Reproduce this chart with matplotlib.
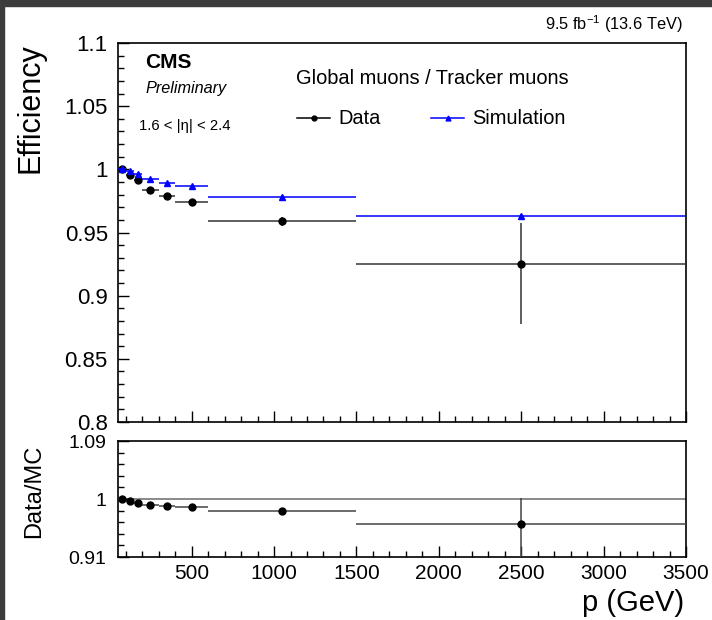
import numpy as np
import matplotlib
matplotlib.use('Agg')
from matplotlib import pyplot as plt
from matplotlib.lines import Line2D
from matplotlib.patches import Rectangle
from matplotlib.ticker import MultipleLocator, FixedLocator, FuncFormatter

plt.rcParams['font.family'] = ['Liberation Sans', 'DejaVu Sans']
plt.rcParams['mathtext.fontset'] = 'custom'
plt.rcParams['mathtext.rm'] = 'Liberation Sans'
plt.rcParams['mathtext.it'] = 'Liberation Sans:italic'

# momentum bins in GeV
bin_edges = [50, 100, 150, 200, 300, 400, 600, 1500, 3500]

# global / tracker muon efficiency, 1.6 < |eta| < 2.4
eff_data = [1.000, 0.9953, 0.9913, 0.9834, 0.9792, 0.9744, 0.9588, 0.9253]
eff_data_err_lo = [0.0008, 0.0010, 0.0010, 0.0012, 0.0015, 0.0020, 0.0037, 0.0480]
eff_data_err_hi = [0.0005, 0.0010, 0.0010, 0.0012, 0.0015, 0.0020, 0.0037, 0.0319]
eff_sim = [1.000, 0.9984, 0.9966, 0.9926, 0.9889, 0.9865, 0.9783, 0.9630]
eff_sim_err = [0.0003, 0.0004, 0.0005, 0.0006, 0.0008, 0.0010, 0.0012, 0.0020]

ratio = [0.9993, 0.9965, 0.9935, 0.9900, 0.9888, 0.9870, 0.9810, 0.9610]
ratio_err_lo = [0.0008, 0.0010, 0.0010, 0.0013, 0.0016, 0.0021, 0.0040, 0.0600]
ratio_err_hi = [0.0005, 0.0010, 0.0010, 0.0013, 0.0016, 0.0021, 0.0040, 0.0410]

edges = np.array(bin_edges, dtype=float)
centers = (edges[:-1] + edges[1:]) / 2
half = (edges[1:] - edges[:-1]) / 2


def fmt(v, pos):
    return f'{round(v, 3):g}'


def style_axis(ax, label_size, ypad):
    for sp in ax.spines.values():
        sp.set_linewidth(1.2)
    ax.tick_params(which='both', direction='in', top=False, right=False)
    ax.tick_params(which='major', length=8, width=1)
    ax.tick_params(which='minor', length=4.5, width=1)
    ax.tick_params(axis='y', labelsize=label_size, pad=ypad)
    ax.tick_params(axis='x', labelsize=15, pad=5)
    ax.xaxis.set_major_locator(MultipleLocator(500))
    ax.xaxis.set_minor_locator(MultipleLocator(100))
    ax.yaxis.set_major_formatter(FuncFormatter(fmt))
    ax.set_xlim(edges[0], edges[-1])


fig = plt.figure(figsize=(7.12, 6.2), dpi=100)
ax = fig.add_axes([117.5 / 712, 1 - 422 / 620, 568.5 / 712, 379 / 620])
rax = fig.add_axes([117.5 / 712, 1 - 557 / 620, 568.5 / 712, 116 / 620])

# efficiency panel
ax.errorbar(centers, eff_data, xerr=half, yerr=[eff_data_err_lo, eff_data_err_hi],
            fmt='o', color='black', ecolor='#333333', ms=5, lw=1.1, capsize=0, zorder=3)
ax.errorbar(centers, eff_sim, xerr=half, yerr=eff_sim_err,
            fmt='^', color='#0000ff', ecolor='#0000ff', ms=4.5, lw=1.1, capsize=0, zorder=4)
ax.set_ylim(0.8, 1.1)
ax.yaxis.set_major_locator(MultipleLocator(0.05))
ax.yaxis.set_minor_locator(MultipleLocator(0.01))
style_axis(ax, 16, 7)
ax.tick_params(axis='x', labelbottom=False)
ax.set_ylabel('Efficiency', fontsize=22, loc='top')
ax.yaxis.set_label_coords(-0.127, 1.0)

# ratio panel
rax.axhline(1.0, color='#808080', lw=1.3, zorder=1)
rax.errorbar(centers, ratio, xerr=half, yerr=[ratio_err_lo, ratio_err_hi],
             fmt='o', color='black', ecolor='#444444', ms=5, lw=1.1, capsize=0, zorder=3)
rax.set_ylim(0.91, 1.09)
rax.yaxis.set_major_locator(FixedLocator([0.91, 1.0, 1.09]))
rax.yaxis.set_minor_locator(FixedLocator(np.arange(0.91, 1.0901, 0.018)))
style_axis(rax, 14, 8)
rax.set_ylabel('Data/MC', fontsize=17)
rax.yaxis.set_label_coords(-0.128, 0.57)
rax.set_xlabel('p (GeV)', fontsize=21, loc='right', labelpad=0)
rax.xaxis.set_label_coords(0.997, -0.28)

# header and annotations
fig.text(683 / 712, 1 - 24 / 620, r'9.5 fb$^{\mathregular{-1}}$ (13.6 TeV)',
         ha='right', va='center', fontsize=11.8)
fig.text(145 / 712, 1 - 62 / 620, 'CMS', ha='left', va='center',
         fontsize=15, fontweight='bold')
fig.text(145 / 712, 1 - 88 / 620, 'Preliminary', ha='left', va='center',
         fontsize=11.7, fontstyle='italic')
fig.text(139 / 712, 1 - 126 / 620, '1.6 < |\u03b7| < 2.4', ha='left', va='center',
         fontsize=10.7)
fig.text(296 / 712, 1 - 78 / 620, 'Global muons / Tracker muons', ha='left',
         va='center', fontsize=14.4)

handles = [Line2D([], [], color='black', marker='o', ms=3.5, lw=1.1),
           Line2D([], [], color='#0000ff', marker='^', ms=3.5, lw=1.1)]
fig.legend(handles, ['Data', 'Simulation'], loc='center left',
           bbox_to_anchor=(297 / 712, 1 - 119 / 620), ncol=2, frameon=False,
           fontsize=14.4, handlelength=1.65, handletextpad=0.4, columnspacing=2.55,
           borderpad=0, borderaxespad=0)

# dark window edge
fig.patches.append(Rectangle((0, 1 - 6 / 620), 1, 6 / 620, transform=fig.transFigure,
                             color='#3c3c3c', zorder=10))
fig.patches.append(Rectangle((0, 0), 4 / 712, 1, transform=fig.transFigure,
                             color='#3c3c3c', zorder=10))

fig.savefig('out.png', dpi=100)
